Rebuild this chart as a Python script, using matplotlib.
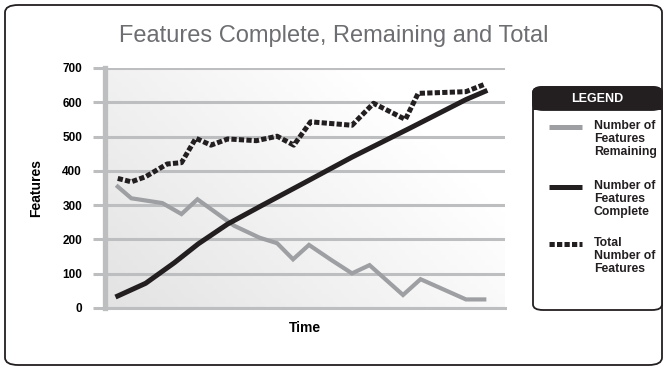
import matplotlib.pyplot as plt
import numpy as np
from matplotlib.patches import FancyBboxPatch
from matplotlib.lines import Line2D

FONT = ['Liberation Sans Narrow', 'Liberation Sans', 'DejaVu Sans']
plt.rcParams['font.family'] = FONT

# data (time in arbitrary steps)
t_remaining = [0, 0.85, 2.8, 4.0, 5.0, 7.3, 8.9, 10.0, 11.0, 12.0, 13.4, 14.7, 15.8, 17.9, 19.0, 21.85, 23.0]
remaining = [354, 320, 306, 274, 317, 240, 205, 189, 142, 184, 140, 101, 125, 38, 84, 25, 25]

t_complete = [0, 1.75, 3.55, 5.05, 6.9, 9.0, 11.7, 14.7, 18.35, 21.85, 23.05]
complete = [35, 72, 132, 187, 245, 298, 365, 440, 525, 608, 632]

t_total = [0, 0.85, 1.75, 3.1, 4.0, 4.9, 5.85, 6.9, 8.7, 10.0, 11.05, 12.1, 14.7, 16.05, 18.05, 18.85, 21.85, 23.05]
total = [378, 368, 383, 420, 424, 495, 475, 493, 488, 501, 475, 543, 533, 597, 550, 626, 631, 653]

yticks = [0, 100, 200, 300, 400, 500, 600, 700]

W, H = 667, 370
fig = plt.figure(figsize=(W / 100, H / 100), dpi=100)

def fx(px):
    return px / W

def fy(py):
    return 1 - py / H

# outer rounded frame
frame = FancyBboxPatch((fx(5), fy(365)), fx(657), (360) / H,
                       boxstyle="round,pad=0,rounding_size=0.02",
                       transform=fig.transFigure, fill=False, lw=1.3, ec='#231f20')
fig.patches.append(frame)

fig.text(0.5, fy(36), "Features Complete, Remaining and Total", ha='center', va='center',
         fontsize=17, color='#6d6e71')

ax = fig.add_axes([fx(105), fy(308), fx(400), 240 / H])

# gradient background
g = np.zeros((50, 100, 3))
xx = np.linspace(0, 1, 100)[None, :]
yy = np.linspace(0, 1, 50)[:, None]
shade = 0.89 + 0.11 * np.clip(xx * 0.8 + (1 - yy) * 0.5, 0, 1)
for c in range(3):
    g[:, :, c] = shade
ax.imshow(g, extent=[0, 1, 0, 1], transform=ax.transAxes, aspect='auto', zorder=0)

ax.set_xlim(-0.8, 24.3)
ax.set_ylim(0, 700)
ax.set_yticks(yticks)
ax.set_xticks([])
ax.yaxis.grid(True, color='#bcbec0', lw=2.2)
ax.set_axisbelow(True)
ax.tick_params(axis='y', length=9, width=2.2, color='#bcbec0', pad=7.5, labelsize=8.5)
for lab in ax.get_yticklabels():
    lab.set_fontweight('bold')
for s in ['top', 'right']:
    ax.spines[s].set_visible(False)
ax.spines['left'].set_color('#bcbec0')
ax.spines['left'].set_linewidth(3.8)
ax.spines['bottom'].set_color('#bcbec0')
ax.spines['bottom'].set_linewidth(2.2)

ax.plot(t_remaining, remaining, color='#9d9fa2', lw=3, solid_joinstyle='miter', zorder=3)
ax.plot(t_complete, complete, color='#231f20', lw=3.6, solid_joinstyle='round', zorder=3)
ax.plot(t_total, total, color='#231f20', lw=3.6, linestyle=(0, (1.05, 0.45)),
        dash_capstyle='butt', zorder=3)

ax.set_ylabel("Features", fontsize=10, fontweight='bold', labelpad=14)
ax.set_xlabel("Time", fontsize=10, fontweight='bold')
ax.xaxis.set_label_coords(0.5, -0.055)

# legend box
box = FancyBboxPatch((fx(533), fy(310)), fx(129), 223 / H,
                     boxstyle="round,pad=0,rounding_size=0.015",
                     transform=fig.transFigure, fill=True, fc='white', lw=1.3, ec='#231f20')
fig.patches.append(box)
head = FancyBboxPatch((fx(533), fy(110)), fx(129), 23 / H,
                      boxstyle="round,pad=0,rounding_size=0.015",
                      transform=fig.transFigure, fc='#231f20', ec='#231f20', lw=1.3)
fig.patches.append(head)
fig.patches.append(plt.Rectangle((fx(533), fy(110)), fx(129), 10 / H,
                                 transform=fig.transFigure, fc='#231f20', ec='none'))
fig.text(fx(597), fy(98.5), "LEGEND", color='white', fontsize=9, fontweight='bold',
         ha='center', va='center')

entries = [
    ("Number of\nFeatures\nRemaining", '#9d9fa2', '-', 127),
    ("Number of\nFeatures\nComplete", '#231f20', '-', 187),
    ("Total\nNumber of\nFeatures", '#231f20', (0, (1.05, 0.45)), 244),
]
for label, col, ls, py in entries:
    fig.lines.append(Line2D([fx(549), fx(582)], [fy(py), fy(py)], color=col, lw=3.6,
                            linestyle=ls, dash_capstyle='butt', solid_capstyle='butt',
                            transform=fig.transFigure))
    fig.text(fx(594), fy(py - 7), label, fontsize=8.8, fontweight='bold', color='#231f20',
             ha='left', va='top', linespacing=1.1)

fig.savefig('out.png', dpi=100)
